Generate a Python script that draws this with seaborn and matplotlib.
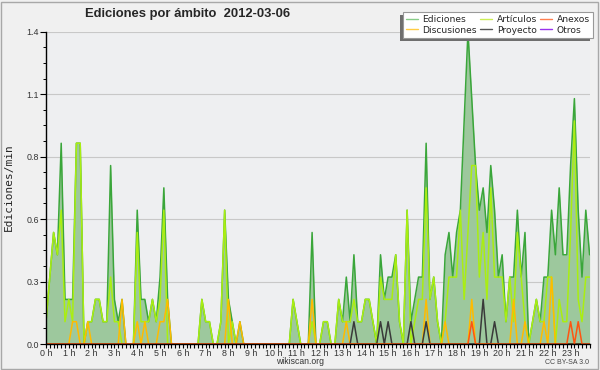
import numpy as np
import pandas as pd
import matplotlib
matplotlib.use("Agg")
import matplotlib.pyplot as plt
import matplotlib.ticker as mticker
from matplotlib.lines import Line2D
from matplotlib.patches import Rectangle
import seaborn as sns

# edits per minute, one value per 10-minute slot (00:00 .. 23:50)
ediciones = [
    0.1, 0.3, 0.5, 0.4, 0.9, 0.2, 0.2, 0.2, 0.9, 0.9, 0.0, 0.1,
    0.1, 0.2, 0.2, 0.1, 0.1, 0.8, 0.2, 0.1, 0.2, 0.0, 0.0, 0.0,
    0.6, 0.2, 0.2, 0.1, 0.2, 0.1, 0.3, 0.7, 0.2, 0.0, 0.0, 0.0,
    0.0, 0.0, 0.0, 0.0, 0.0, 0.2, 0.1, 0.1, 0.0, 0.0, 0.1, 0.6,
    0.2, 0.1, 0.0, 0.1, 0.0, 0.0, 0.0, 0.0, 0.0, 0.0, 0.0, 0.0,
    0.0, 0.0, 0.0, 0.0, 0.0, 0.2, 0.1, 0.0, 0.0, 0.0, 0.5, 0.0,
    0.0, 0.1, 0.1, 0.0, 0.0, 0.2, 0.1, 0.3, 0.1, 0.4, 0.1, 0.1,
    0.2, 0.2, 0.1, 0.0, 0.4, 0.2, 0.3, 0.3, 0.4, 0.1, 0.0, 0.6,
    0.1, 0.2, 0.3, 0.3, 0.9, 0.2, 0.3, 0.1, 0.0, 0.4, 0.5, 0.3,
    0.5, 0.6, 1.0, 1.4, 1.1, 0.8, 0.6, 0.7, 0.5, 0.8, 0.6, 0.3,
    0.4, 0.1, 0.3, 0.3, 0.6, 0.3, 0.5, 0.0, 0.1, 0.2, 0.1, 0.3,
    0.3, 0.6, 0.4, 0.7, 0.4, 0.4, 0.8, 1.1, 0.6, 0.3, 0.6, 0.4,
]
articulos = [
    0.1, 0.3, 0.5, 0.4, 0.6, 0.1, 0.2, 0.1, 0.9, 0.9, 0.0, 0.1,
    0.1, 0.2, 0.2, 0.1, 0.1, 0.3, 0.1, 0.1, 0.0, 0.0, 0.0, 0.0,
    0.5, 0.1, 0.1, 0.1, 0.2, 0.1, 0.2, 0.6, 0.0, 0.0, 0.0, 0.0,
    0.0, 0.0, 0.0, 0.0, 0.0, 0.2, 0.1, 0.1, 0.0, 0.0, 0.1, 0.6,
    0.0, 0.1, 0.0, 0.0, 0.0, 0.0, 0.0, 0.0, 0.0, 0.0, 0.0, 0.0,
    0.0, 0.0, 0.0, 0.0, 0.0, 0.2, 0.1, 0.0, 0.0, 0.0, 0.1, 0.0,
    0.0, 0.1, 0.1, 0.0, 0.0, 0.2, 0.1, 0.1, 0.1, 0.2, 0.1, 0.1,
    0.2, 0.2, 0.1, 0.0, 0.3, 0.2, 0.2, 0.2, 0.4, 0.1, 0.0, 0.6,
    0.0, 0.1, 0.2, 0.2, 0.7, 0.2, 0.3, 0.1, 0.0, 0.1, 0.3, 0.3,
    0.3, 0.6, 0.2, 0.5, 0.8, 0.8, 0.3, 0.5, 0.2, 0.7, 0.3, 0.3,
    0.3, 0.1, 0.3, 0.1, 0.5, 0.3, 0.1, 0.0, 0.1, 0.2, 0.1, 0.1,
    0.3, 0.3, 0.0, 0.2, 0.1, 0.1, 0.5, 1.0, 0.2, 0.1, 0.3, 0.3,
]
discusiones = [
    0.0, 0.0, 0.0, 0.0, 0.0, 0.0, 0.0, 0.1, 0.1, 0.0, 0.0, 0.1,
    0.0, 0.0, 0.0, 0.0, 0.0, 0.0, 0.0, 0.0, 0.2, 0.0, 0.0, 0.0,
    0.1, 0.0, 0.1, 0.0, 0.0, 0.0, 0.1, 0.1, 0.2, 0.0, 0.0, 0.0,
    0.0, 0.0, 0.0, 0.0, 0.0, 0.0, 0.0, 0.0, 0.0, 0.0, 0.0, 0.0,
    0.2, 0.0, 0.0, 0.1, 0.0, 0.0, 0.0, 0.0, 0.0, 0.0, 0.0, 0.0,
    0.0, 0.0, 0.0, 0.0, 0.0, 0.0, 0.0, 0.0, 0.0, 0.0, 0.2, 0.0,
    0.0, 0.0, 0.0, 0.0, 0.0, 0.0, 0.0, 0.1, 0.0, 0.0, 0.0, 0.0,
    0.0, 0.0, 0.0, 0.0, 0.0, 0.0, 0.0, 0.0, 0.0, 0.0, 0.0, 0.0,
    0.0, 0.0, 0.0, 0.0, 0.2, 0.0, 0.0, 0.0, 0.0, 0.1, 0.0, 0.0,
    0.0, 0.0, 0.0, 0.0, 0.2, 0.0, 0.0, 0.0, 0.0, 0.0, 0.0, 0.0,
    0.0, 0.0, 0.0, 0.2, 0.0, 0.0, 0.1, 0.0, 0.0, 0.0, 0.0, 0.1,
    0.0, 0.3, 0.0, 0.0, 0.0, 0.0, 0.0, 0.0, 0.0, 0.0, 0.0, 0.0,
]
proyecto = [
    0.0, 0.0, 0.0, 0.0, 0.0, 0.0, 0.0, 0.0, 0.0, 0.0, 0.0, 0.0,
    0.0, 0.0, 0.0, 0.0, 0.0, 0.0, 0.0, 0.0, 0.0, 0.0, 0.0, 0.0,
    0.0, 0.0, 0.0, 0.0, 0.0, 0.0, 0.0, 0.0, 0.0, 0.0, 0.0, 0.0,
    0.0, 0.0, 0.0, 0.0, 0.0, 0.0, 0.0, 0.0, 0.0, 0.0, 0.0, 0.0,
    0.0, 0.0, 0.0, 0.0, 0.0, 0.0, 0.0, 0.0, 0.0, 0.0, 0.0, 0.0,
    0.0, 0.0, 0.0, 0.0, 0.0, 0.0, 0.0, 0.0, 0.0, 0.0, 0.0, 0.0,
    0.0, 0.0, 0.0, 0.0, 0.0, 0.0, 0.0, 0.0, 0.0, 0.1, 0.0, 0.0,
    0.0, 0.0, 0.0, 0.0, 0.1, 0.0, 0.1, 0.0, 0.0, 0.0, 0.0, 0.0,
    0.1, 0.0, 0.0, 0.0, 0.1, 0.0, 0.0, 0.0, 0.0, 0.0, 0.0, 0.0,
    0.0, 0.0, 0.0, 0.0, 0.0, 0.0, 0.0, 0.2, 0.0, 0.0, 0.1, 0.0,
    0.0, 0.0, 0.0, 0.0, 0.0, 0.0, 0.0, 0.0, 0.0, 0.0, 0.0, 0.0,
    0.0, 0.0, 0.0, 0.0, 0.0, 0.0, 0.0, 0.0, 0.0, 0.0, 0.0, 0.0,
]
anexos = [
    0.0, 0.0, 0.0, 0.0, 0.0, 0.0, 0.0, 0.0, 0.0, 0.0, 0.0, 0.0,
    0.0, 0.0, 0.0, 0.0, 0.0, 0.0, 0.0, 0.0, 0.0, 0.0, 0.0, 0.0,
    0.0, 0.0, 0.0, 0.0, 0.0, 0.0, 0.0, 0.0, 0.0, 0.0, 0.0, 0.0,
    0.0, 0.0, 0.0, 0.0, 0.0, 0.0, 0.0, 0.0, 0.0, 0.0, 0.0, 0.0,
    0.0, 0.0, 0.0, 0.0, 0.0, 0.0, 0.0, 0.0, 0.0, 0.0, 0.0, 0.0,
    0.0, 0.0, 0.0, 0.0, 0.0, 0.0, 0.0, 0.0, 0.0, 0.0, 0.0, 0.0,
    0.0, 0.0, 0.0, 0.0, 0.0, 0.0, 0.0, 0.0, 0.0, 0.0, 0.0, 0.0,
    0.0, 0.0, 0.0, 0.0, 0.0, 0.0, 0.0, 0.0, 0.0, 0.0, 0.0, 0.0,
    0.0, 0.0, 0.0, 0.0, 0.0, 0.0, 0.0, 0.0, 0.0, 0.0, 0.0, 0.0,
    0.0, 0.0, 0.0, 0.0, 0.1, 0.0, 0.0, 0.0, 0.0, 0.0, 0.0, 0.0,
    0.0, 0.0, 0.0, 0.0, 0.0, 0.0, 0.0, 0.0, 0.0, 0.0, 0.0, 0.0,
    0.0, 0.0, 0.0, 0.0, 0.0, 0.0, 0.1, 0.0, 0.1, 0.0, 0.0, 0.0,
]
otros = [0.0] * 144

hour_labels = [f"{h} h" for h in range(24)]
y_ticks = [0.0, 0.28, 0.56, 0.84, 1.12, 1.4]

df = pd.DataFrame({
    "hora": np.arange(len(ediciones)) / 6,
    "Ediciones": ediciones,
    "Artículos": articulos,
    "Discusiones": discusiones,
    "Proyecto": proyecto,
    "Anexos": anexos,
    "Otros": otros,
})

sns.set_style("ticks", {
    "axes.facecolor": "#eeeff1",
    "figure.facecolor": "#f0f0f0",
    "axes.edgecolor": "black",
    "xtick.color": "black",
    "ytick.color": "black",
})
plt.rcParams["font.family"] = ["Liberation Sans", "DejaVu Sans"]

fig = plt.figure(figsize=(6, 3.7), dpi=100)
ax = fig.add_axes([46 / 600, 1 - 344 / 370, 543.6 / 600, 312.3 / 370])

# total edits as filled area, namespaces as lines on top
ax.fill_between(df["hora"], df["Ediciones"], color="#9dc89d", lw=0, zorder=1)
line_colors = {
    "Ediciones": "#3aa63a",
    "Artículos": "#aaee11",
    "Discusiones": "#ffbb00",
    "Proyecto": "#3a3a3a",
    "Anexos": "#ff5511",
}
for col, c in line_colors.items():
    sns.lineplot(data=df, x="hora", y=col, color=c, lw=1.1, ax=ax, zorder=2)

ax.set(xlabel="", ylabel="")
ax.set_xlim(0, df["hora"].iloc[-1])
ax.set_ylim(0, 1.4)
ax.set_xticks(range(24), labels=hour_labels)
ax.xaxis.set_minor_locator(mticker.MultipleLocator(1 / 6))
ax.set_yticks(y_ticks, labels=[f"{v:.1f}" for v in y_ticks])
ax.yaxis.set_minor_locator(mticker.FixedLocator(np.linspace(0, 1.4, 21)))

ax.tick_params(axis="x", which="both", length=3, width=0.8, pad=0.5,
               labelsize=6.4, labelcolor="#333333")
ax.tick_params(axis="y", which="major", length=4, width=0.8, pad=1,
               labelsize=6.4, labelcolor="#333333")
ax.tick_params(axis="y", which="minor", length=2.5, width=0.7)

ax.yaxis.grid(True, color="#c8c8c8", lw=0.8)
ax.set_axisbelow(True)
for s in ["top", "right"]:
    ax.spines[s].set_visible(False)
for s in ["left", "bottom"]:
    ax.spines[s].set_linewidth(1.0)

fig.text(188 / 600, 1 - 14 / 370, "Ediciones por ámbito  2012-03-06",
         weight="bold", size=9.4, ha="center", va="center")
fig.text(9 / 600, 1 - 187 / 370, "Ediciones/min", rotation=90,
         family="DejaVu Sans Mono", size=8, ha="center", va="center")
fig.text(0.5, 1 - 361 / 370, "wikiscan.org", size=6.2,
         ha="center", va="center", color="#333333")
fig.text(589 / 600, 1 - 362 / 370, "CC BY-SA 3.0", size=5,
         ha="right", va="center", color="#444444")

# legend, column-wise: Ediciones/Discusiones, Artículos/Proyecto, Anexos/Otros
legend_items = [
    ("Ediciones", "#88cc88"),
    ("Discusiones", "#ffcc44"),
    ("Artículos", "#ccee55"),
    ("Proyecto", "#555555"),
    ("Anexos", "#ff7f50"),
    ("Otros", "#9933ee"),
]
handles = [Line2D([], [], color=c, lw=1) for _, c in legend_items]
leg = fig.legend(handles, [n for n, _ in legend_items], loc="upper right",
                 bbox_to_anchor=(593 / 600, 1 - 12 / 370), ncol=3,
                 prop={"family": "DejaVu Sans", "size": 6.6},
                 frameon=True, fancybox=False, edgecolor="#999999",
                 facecolor="white", framealpha=1, borderpad=0.35,
                 labelspacing=0.15, handlelength=1.3, handletextpad=0.5,
                 columnspacing=0.35, borderaxespad=0,
                 shadow={"ox": -2, "oy": -2, "facecolor": "#6e6e6e",
                         "edgecolor": "none", "alpha": 1})
leg.get_frame().set_linewidth(0.8)

fig.add_artist(Rectangle((0.5 / 600, 1.5 / 370), 597.5 / 600, 367 / 370,
                         transform=fig.transFigure, fill=False,
                         edgecolor="#a8a8a8", lw=1))

fig.savefig("out.png", dpi=100)
